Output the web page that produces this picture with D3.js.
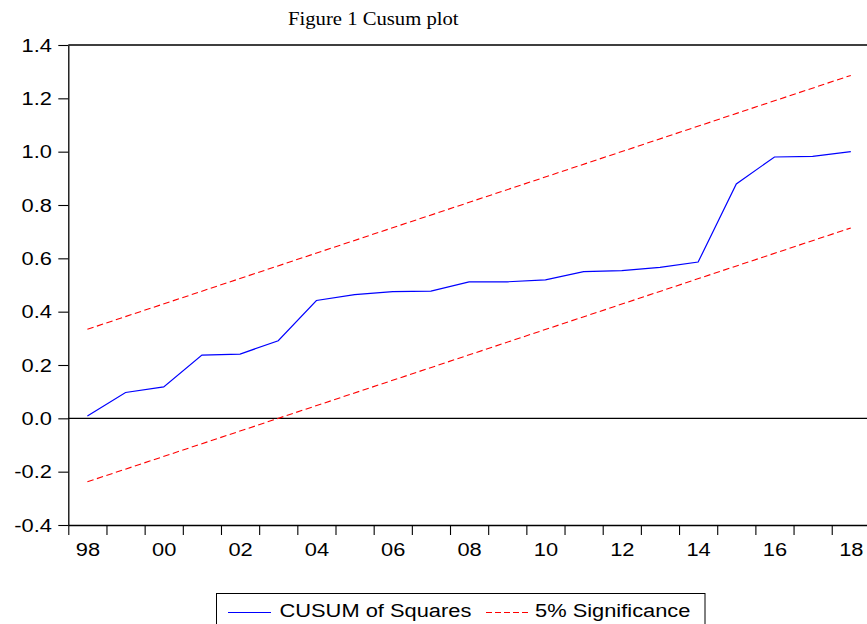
<!DOCTYPE html>
<html>
<head>
<meta charset="utf-8">
<script src="https://cdn.jsdelivr.net/npm/d3@7"></script>
<style>
  html, body { margin: 0; padding: 0; background: #fff; }
  svg { display: block; }
</style>
</head>
<body>
<svg id="chart" width="867" height="624"></svg>
<script>
// ---- data ----
const years = [1998, 1999, 2000, 2001, 2002, 2003, 2004, 2005, 2006, 2007, 2008,
               2009, 2010, 2011, 2012, 2013, 2014, 2015, 2016, 2017, 2018];
const cusumSq = [0.009, 0.097, 0.118, 0.237, 0.241, 0.291, 0.442, 0.464, 0.475, 0.477, 0.512,
                 0.512, 0.519, 0.550, 0.554, 0.566, 0.586, 0.879, 0.980, 0.982, 1.000];
const bandYears = [1998, 2018];
const upperBand = [0.334, 1.286];
const lowerBand = [-0.238, 0.714];
const yTicks = [-0.4, -0.2, 0.0, 0.2, 0.4, 0.6, 0.8, 1.0, 1.2, 1.4];
const xTickYears = [1998, 1999, 2000, 2001, 2002, 2003, 2004, 2005, 2006, 2007, 2008,
                    2009, 2010, 2011, 2012, 2013, 2014, 2015, 2016, 2017, 2018, 2019];
const xLabelYears = [1998, 2000, 2002, 2004, 2006, 2008, 2010, 2012, 2014, 2016, 2018];
const xLabels = ["98", "00", "02", "04", "06", "08", "10", "12", "14", "16", "18"];
const titleText = "Figure 1 Cusum plot";
const seriesNames = ["CUSUM of Squares", "5% Significance"];

// ---- layout ----
const L = 68.3, R = 869.9, T = 45, B = 525;
const SX = 1.15; // horizontal stretch of the original picture's text
const svg = d3.select("#chart");
const x = d3.scaleLinear().domain([1998, 2019]).range([L, R]);
const y = d3.scaleLinear().domain([-0.4, 1.4]).range([B, T]);
const sans = "'Liberation Sans', Arial, sans-serif";

// title
svg.append("text")
  .attr("transform", `translate(288,24.5) scale(${SX},1)`)
  .attr("font-family", "'Liberation Serif', 'Times New Roman', serif")
  .attr("font-size", 18)
  .attr("fill", "#000")
  .text(titleText);

// zero line
svg.append("line")
  .attr("x1", L).attr("x2", R)
  .attr("y1", y(0)).attr("y2", y(0))
  .attr("stroke", "#000").attr("stroke-width", 1.1);

// top and right frame
svg.append("path")
  .attr("d", `M${L},${T}H${R}V${B}`)
  .attr("fill", "none").attr("stroke", "#000").attr("stroke-width", 1.3);

// y axis
const yAxis = svg.append("g")
  .attr("transform", `translate(${L},0)`)
  .call(d3.axisLeft(y).tickValues(yTicks).tickSize(10).tickSizeOuter(0)
        .tickFormat(v => v.toFixed(1)));
yAxis.selectAll("text")
  .attr("x", -14.2)
  .attr("transform", `scale(${SX},1)`)
  .attr("font-family", sans).attr("font-size", 19).attr("fill", "#000");

// x axis ticks
const xAxis = svg.append("g")
  .attr("transform", `translate(0,${B})`)
  .call(d3.axisBottom(x).tickValues(xTickYears).tickSize(10).tickSizeOuter(0)
        .tickFormat(() => ""));

// x axis labels at year centres
const xLab = svg.append("g")
  .attr("transform", `translate(0,${B})`)
  .call(d3.axisBottom(x).tickValues(xLabelYears.map(d => d + 0.5)).tickSize(0).tickPadding(17.5)
        .tickFormat((d, i) => xLabels[i]));
xLab.select(".domain").remove();
xLab.selectAll("text")
  .attr("transform", `scale(${SX},1)`)
  .attr("font-family", sans).attr("font-size", 19).attr("fill", "#000");

[yAxis, xAxis].forEach(g => {
  g.selectAll(".domain").attr("stroke", "#000").attr("stroke-width", 1.3);
  g.selectAll(".tick line").attr("stroke", "#000").attr("stroke-width", 1.1);
});

// lines
const line = d3.line().x(d => x(d[0] + 0.5)).y(d => y(d[1]));
svg.append("path")
  .datum(bandYears.map((yr, i) => [yr, upperBand[i]]))
  .attr("d", line).attr("fill", "none")
  .attr("stroke", "#ff0000").attr("stroke-width", 1.1).attr("stroke-dasharray", "6.5,3.5");
svg.append("path")
  .datum(bandYears.map((yr, i) => [yr, lowerBand[i]]))
  .attr("d", line).attr("fill", "none")
  .attr("stroke", "#ff0000").attr("stroke-width", 1.1).attr("stroke-dasharray", "6.5,3.5");
svg.append("path")
  .datum(years.map((yr, i) => [yr, cusumSq[i]]))
  .attr("d", line).attr("fill", "none")
  .attr("stroke", "#0000ff").attr("stroke-width", 1.2);

// legend
const lg = svg.append("g");
lg.append("rect")
  .attr("x", 216.5).attr("y", 593.5).attr("width", 488.5).attr("height", 40)
  .attr("fill", "#fff").attr("stroke", "#000").attr("stroke-width", 1);
lg.append("line")
  .attr("x1", 228).attr("x2", 271).attr("y1", 612.5).attr("y2", 612.5)
  .attr("stroke", "#0000ff").attr("stroke-width", 1.1);
lg.append("text")
  .attr("transform", `translate(279.5,617) scale(${SX},1)`)
  .attr("font-family", sans).attr("font-size", 19).attr("fill", "#000")
  .text(seriesNames[0]);
lg.append("line")
  .attr("x1", 486).attr("x2", 528).attr("y1", 612.5).attr("y2", 612.5)
  .attr("stroke", "#ff0000").attr("stroke-width", 1.1).attr("stroke-dasharray", "6,3");
lg.append("text")
  .attr("transform", `translate(535,617) scale(${SX},1)`)
  .attr("font-family", sans).attr("font-size", 19).attr("fill", "#000")
  .text(seriesNames[1]);
</script>
</body>
</html>
